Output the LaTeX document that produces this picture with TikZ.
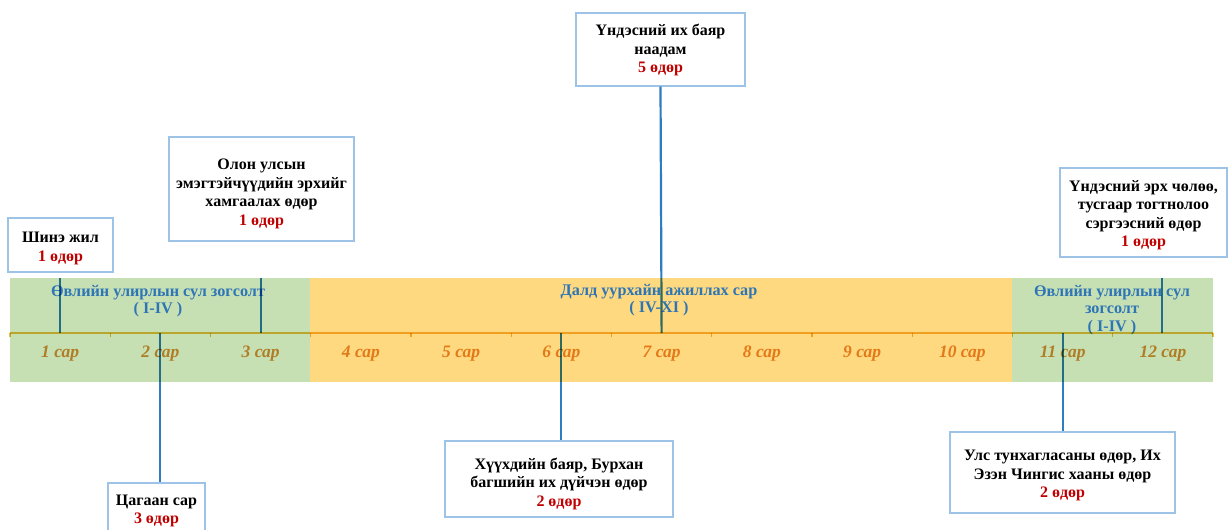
\documentclass[tikz,border=0pt]{standalone}
\usepackage{fontspec}
\setmainfont{Liberation Serif}
\definecolor{bgreen}{HTML}{C6E0B4}
\definecolor{borange}{HTML}{FFD97F}
\definecolor{boxline}{HTML}{9DC3E6}
\definecolor{dred}{HTML}{C00000}
\definecolor{tblue}{HTML}{2E75B6}
\definecolor{connc}{HTML}{2E7DC0}
\definecolor{axisc}{HTML}{F0BC40}
\definecolor{monthc}{HTML}{E38F34}
\newcommand\bxstrut[1]{\rule{0pt}{#1pt}}
\begin{document}
\begin{tikzpicture}[x=1pt,y=-1pt,
  evbox/.style={draw=boxline, line width=1.3pt, fill=white, align=center, inner sep=2pt,
    font=\fontsize{16}{18.5}\selectfont\bfseries},
  connline/.style={draw=connc, line width=2.2pt, blend mode=multiply},
  bandtitle/.style={text=tblue, align=center, font=\fontsize{16.2}{17.5}\selectfont\bfseries},
  monthlbl/.style={text=monthc, font=\fontsize{17.5}{18}\selectfont\bfseries\itshape, blend mode=multiply},
  axisline/.style={draw=axisc, line width=2.6pt, blend mode=multiply},
  tickmark/.style={draw=axisc, line width=1.4pt, blend mode=multiply}]
\useasboundingbox (0,0) rectangle (1229,530);
\fill[white] (0,0) rectangle (1229,530);
% bands
\fill[bgreen] (10,278) rectangle (310,382);
\fill[borange] (310,278) rectangle (1012,382);
\fill[bgreen] (1012,278) rectangle (1213,382);
% band titles
\node[bandtitle] (t1) at (158,301) {Өвлийн улирлын сул зогсолт\\( I-IV )};
\node[bandtitle] (t2) at (659,300) {Далд уурхайн ажиллах сар\\( IV-XI )};
\node[bandtitle] (t3) at (1112,310) {Өвлийн улирлын сул\\зогсолт\\( I-IV )};
% axis
\coordinate (axL) at (10,333);
\coordinate (axR) at (1213,333);
\draw[axisline] (axL) -- (axR);
\foreach \k in {0,...,12}{
  \coordinate (tk\k) at ({10+100.25*\k},333);
  \draw[tickmark] (tk\k) -- ++(0,4);
}
\foreach \m in {1,...,12}{
  \node[monthlbl] (m\m) at ({10+100.25*(\m-0.5)},354) {\m\ сар};
  \coordinate (ax\m) at ({10+100.25*(\m-0.5)},333);
}
% event boxes
\node[evbox, minimum width=105pt, minimum height=54pt] (shine) at (60.5,245)
  {\bxstrut{17.6}Шинэ жил\\\textcolor{dred}{1 өдөр}};
\node[evbox, minimum width=185pt, minimum height=104pt] (olon) at (261.5,189)
  {\bxstrut{20.6}Олон улсын\\эмэгтэйчүүдийн эрхийг\\хамгаалах өдөр\\\textcolor{dred}{1 өдөр}};
\node[evbox, minimum width=169pt, minimum height=73pt] (naadam) at (660.5,49.5)
  {\bxstrut{12.6}Үндэсний их баяр\\наадам\\\textcolor{dred}{5 өдөр}};
\node[evbox, minimum width=167pt, minimum height=89pt] (erh) at (1143.5,212.5)
  {\bxstrut{16.6}Үндэсний эрх чөлөө,\\тусгаар тогтнолоо\\сэргээсний өдөр\\\textcolor{dred}{1 өдөр}};
\node[evbox, minimum width=97pt, minimum height=56pt] (tsagaan) at (156.5,511)
  {Цагаан сар\\\textcolor{dred}{3 өдөр}};
\node[evbox, minimum width=228pt, minimum height=76pt] (huuhed) at (559,479)
  {\bxstrut{20.6}Хүүхдийн баяр, Бурхан\\багшийн их дүйчэн өдөр\\\textcolor{dred}{2 өдөр}};
\node[evbox, minimum width=225pt, minimum height=81pt] (uls) at (1062.5,472.5)
  {\bxstrut{16.6}Улс тунхагласаны өдөр, Их\\Эзэн Чингис хааны өдөр\\\textcolor{dred}{2 өдөр}};
% connector end points on band top
\coordinate (c1) at (60,278);
\coordinate (c3) at (261,278);
\coordinate (c12) at (1162,278);
\coordinate (a12) at (1162,333);
\coordinate (a3) at (261,333);
\coordinate (a1) at (60,333);
% connectors
\draw[connline] (c1) -- (a1);
\draw[connline] (c3) -- (a3);
\draw[connline] (c12) -- (a12);
\draw[connline] (naadam.south) -- (ax7);
\draw[connline] (ax2) -- (ax2 |- tsagaan.north);
\draw[connline] (ax6) -- (ax6 |- huuhed.north);
\draw[connline] (ax11) -- (ax11 |- uls.north);
\end{tikzpicture}
\end{document}
